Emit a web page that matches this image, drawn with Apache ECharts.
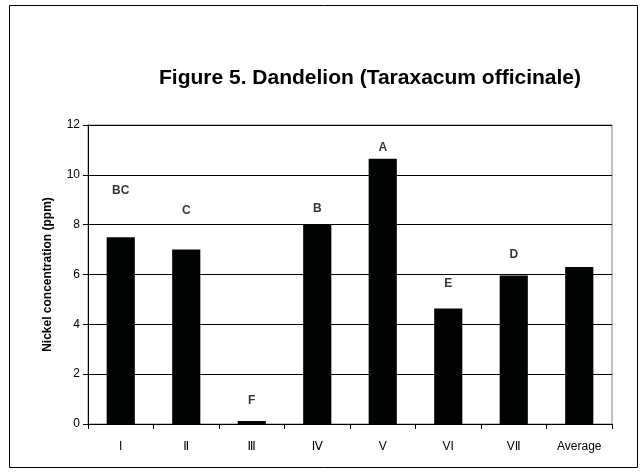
<!DOCTYPE html>
<html>
<head>
<meta charset="utf-8">
<script src="https://cdn.jsdelivr.net/npm/echarts@6/dist/echarts.min.js"></script>
<style>
html,body{margin:0;padding:0;background:#fff;}
#chart{width:644px;height:474px;}
</style>
</head>
<body>
<div id="chart"></div>
<script>
// Data
var categories = ['I', 'Ⅱ', 'Ⅲ', 'Ⅳ', 'V', 'VI', 'VⅡ', 'Average'];
var nickelValues = [7.5, 7.0, 0.12, 8.0, 10.65, 4.64, 5.96, 6.3];
var letterLabels = ['BC', 'C', 'F', 'B', 'A', 'E', 'D', ''];
var letterHeights = [9.35, 8.55, 0.93, 8.65, 11.1, 5.64, 6.8, null];
var yTicks = [0, 2, 4, 6, 8, 10, 12];

var chart = echarts.init(document.getElementById('chart'));
var letterData = letterHeights.map(function (v, i) {
  return v === null ? null : { value: v, name: letterLabels[i] };
});

var option = {
  backgroundColor: '#ffffff',
  animation: false,
  title: {
    text: 'Figure 5. Dandelion (Taraxacum officinale)',
    left: 365,
    textAlign: 'center',
    top: 63,
    textStyle: {
      fontFamily: 'Liberation Sans, Arial, sans-serif',
      fontWeight: 'bold',
      fontSize: 21,
      color: '#000'
    }
  },
  graphic: [{
    type: 'rect',
    shape: { x: 9.5, y: 5.5, width: 628, height: 462 },
    style: { fill: 'none', stroke: '#000', lineWidth: 1 },
    silent: true,
    z: 0
  }],
  grid: {
    left: 88,
    right: 32,
    top: 125,
    bottom: 50,
    show: true,
    borderColor: '#808080',
    borderWidth: 1,
    backgroundColor: '#fff'
  },
  xAxis: {
    type: 'category',
    data: categories,
    axisLine: { show: true, lineStyle: { color: '#000', width: 1 } },
    axisTick: { show: true, length: 5, lineStyle: { color: '#000' } },
    axisLabel: {
      margin: 17,
      fontSize: 12,
      color: '#000',
      fontFamily: 'Liberation Sans, Arial, DejaVu Sans, sans-serif'
    }
  },
  yAxis: {
    type: 'value',
    min: yTicks[0],
    max: yTicks[yTicks.length - 1],
    interval: 2,
    name: 'Nickel concentration (ppm)',
    nameLocation: 'middle',
    nameGap: 34,
    nameTextStyle: {
      fontFamily: 'Liberation Sans, Arial, sans-serif',
      fontWeight: 'bold',
      fontSize: 12,
      color: '#000'
    },
    axisLine: { show: true, lineStyle: { color: '#000', width: 1 } },
    axisTick: { show: true, length: 5, lineStyle: { color: '#000' } },
    axisLabel: {
      margin: 8,
      fontSize: 12,
      color: '#000',
      fontFamily: 'Liberation Sans, Arial, sans-serif'
    },
    splitLine: { show: true, lineStyle: { color: '#000', width: 1 } }
  },
  series: [{
    type: 'bar',
    data: nickelValues,
    barWidth: '43%',
    itemStyle: { color: '#020404' },
    z: 3
  }, {
    type: 'scatter',
    data: letterData,
    symbolSize: 1,
    itemStyle: { color: 'rgba(0,0,0,0)' },
    label: {
      show: true,
      position: 'inside',
      formatter: function (p) { return p.name; },
      fontFamily: 'Liberation Sans, Arial, sans-serif',
      fontWeight: 'bold',
      fontSize: 12,
      color: '#000'
    },
    z: 4
  }]
};
chart.setOption(option);
</script>
</body>
</html>
